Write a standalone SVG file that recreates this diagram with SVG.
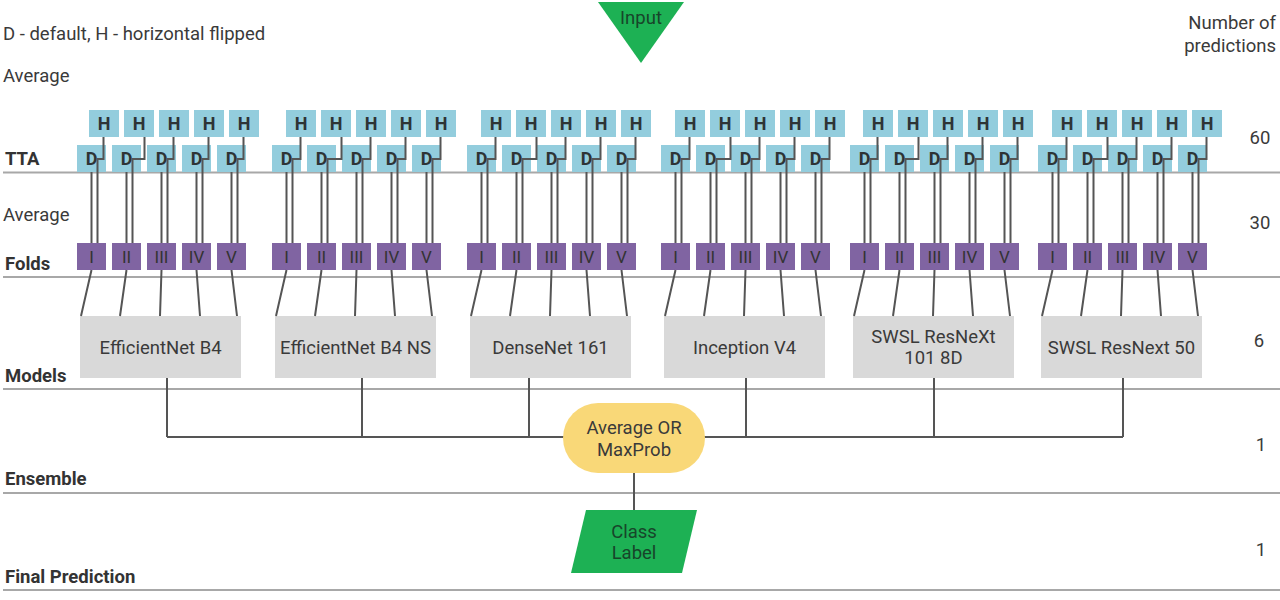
<svg xmlns="http://www.w3.org/2000/svg" width="1280" height="600" viewBox="0 0 1280 600">
<style>
text{font-family:Roboto,"Liberation Sans",sans-serif;fill:#3a3a3a;font-size:18.5px}
.lb{font-weight:bold;fill:#333}
.c{text-anchor:middle}
.r{text-anchor:end}
.hd{fill:#93CDDD}
.ht{font-weight:bold;font-size:18px;text-anchor:middle;fill:#2e3436}
.fo{fill:#8064A2}
.ft{font-size:17px;text-anchor:middle;fill:#333}
.mo{fill:#D9D9D9}
.sep{stroke:#a8a8a8;stroke-width:2;fill:none}
.cn{stroke:#555;stroke-width:2;fill:none}
.gt{fill:#17452a;text-anchor:middle}
</style>
<rect width="1280" height="600" fill="#fff"/>
<g id="separators">
<line class="sep" x1="3" y1="172.5" x2="1280" y2="172.5"/>
<line class="sep" x1="3" y1="277" x2="1280" y2="277"/>
<line class="sep" x1="3" y1="389" x2="1280" y2="389"/>
<line class="sep" x1="3" y1="493" x2="1280" y2="493"/>
<line class="sep" x1="3" y1="590" x2="1280" y2="590"/>
</g>
<g id="labels">
<text x="3" y="40">D - default, H - horizontal flipped</text>
<text x="3" y="82">Average</text>
<text x="3" y="221">Average</text>
<text class="lb" x="5" y="165">TTA</text>
<text class="lb" x="5" y="270">Folds</text>
<text class="lb" x="5" y="382">Models</text>
<text class="lb" x="5" y="485">Ensemble</text>
<text class="lb" x="5" y="583">Final Prediction</text>
<text class="r" x="1276" y="29">Number of</text>
<text class="r" x="1276" y="52">predictions</text>
<text class="c" x="1260" y="144">60</text>
<text class="c" x="1260" y="229">30</text>
<text class="c" x="1259" y="347">6</text>
<text class="c" x="1261" y="451">1</text>
<text class="c" x="1261" y="556">1</text>
</g>
<g id="input">
<polygon points="598,2 684,2 641,63" fill="#1DB154"/>
<text class="gt" x="641" y="24">Input</text>
</g>
<!-- TTA H boxes -->
<g id="tta-h">
<g id="h1-1"><rect class="hd" x="89" y="110" width="30" height="27"/><text class="ht" x="104" y="130">H</text></g>
<g id="h1-2"><rect class="hd" x="124" y="110" width="30" height="27"/><text class="ht" x="139" y="130">H</text></g>
<g id="h1-3"><rect class="hd" x="159" y="110" width="30" height="27"/><text class="ht" x="174" y="130">H</text></g>
<g id="h1-4"><rect class="hd" x="194" y="110" width="30" height="27"/><text class="ht" x="209" y="130">H</text></g>
<g id="h1-5"><rect class="hd" x="229" y="110" width="30" height="27"/><text class="ht" x="244" y="130">H</text></g>
<g id="h2-1"><rect class="hd" x="286" y="110" width="30" height="27"/><text class="ht" x="301" y="130">H</text></g>
<g id="h2-2"><rect class="hd" x="321" y="110" width="30" height="27"/><text class="ht" x="336" y="130">H</text></g>
<g id="h2-3"><rect class="hd" x="356" y="110" width="30" height="27"/><text class="ht" x="371" y="130">H</text></g>
<g id="h2-4"><rect class="hd" x="391" y="110" width="30" height="27"/><text class="ht" x="406" y="130">H</text></g>
<g id="h2-5"><rect class="hd" x="426" y="110" width="30" height="27"/><text class="ht" x="441" y="130">H</text></g>
<g id="h3-1"><rect class="hd" x="481" y="110" width="30" height="27"/><text class="ht" x="496" y="130">H</text></g>
<g id="h3-2"><rect class="hd" x="516" y="110" width="30" height="27"/><text class="ht" x="531" y="130">H</text></g>
<g id="h3-3"><rect class="hd" x="551" y="110" width="30" height="27"/><text class="ht" x="566" y="130">H</text></g>
<g id="h3-4"><rect class="hd" x="586" y="110" width="30" height="27"/><text class="ht" x="601" y="130">H</text></g>
<g id="h3-5"><rect class="hd" x="621" y="110" width="30" height="27"/><text class="ht" x="636" y="130">H</text></g>
<g id="h4-1"><rect class="hd" x="675" y="110" width="30" height="27"/><text class="ht" x="690" y="130">H</text></g>
<g id="h4-2"><rect class="hd" x="710" y="110" width="30" height="27"/><text class="ht" x="725" y="130">H</text></g>
<g id="h4-3"><rect class="hd" x="745" y="110" width="30" height="27"/><text class="ht" x="760" y="130">H</text></g>
<g id="h4-4"><rect class="hd" x="780" y="110" width="30" height="27"/><text class="ht" x="795" y="130">H</text></g>
<g id="h4-5"><rect class="hd" x="815" y="110" width="30" height="27"/><text class="ht" x="830" y="130">H</text></g>
<g id="h5-1"><rect class="hd" x="863" y="110" width="30" height="27"/><text class="ht" x="878" y="130">H</text></g>
<g id="h5-2"><rect class="hd" x="898" y="110" width="30" height="27"/><text class="ht" x="913" y="130">H</text></g>
<g id="h5-3"><rect class="hd" x="933" y="110" width="30" height="27"/><text class="ht" x="948" y="130">H</text></g>
<g id="h5-4"><rect class="hd" x="968" y="110" width="30" height="27"/><text class="ht" x="983" y="130">H</text></g>
<g id="h5-5"><rect class="hd" x="1003" y="110" width="30" height="27"/><text class="ht" x="1018" y="130">H</text></g>
<g id="h6-1"><rect class="hd" x="1052" y="110" width="30" height="27"/><text class="ht" x="1067" y="130">H</text></g>
<g id="h6-2"><rect class="hd" x="1087" y="110" width="30" height="27"/><text class="ht" x="1102" y="130">H</text></g>
<g id="h6-3"><rect class="hd" x="1122" y="110" width="30" height="27"/><text class="ht" x="1137" y="130">H</text></g>
<g id="h6-4"><rect class="hd" x="1157" y="110" width="30" height="27"/><text class="ht" x="1172" y="130">H</text></g>
<g id="h6-5"><rect class="hd" x="1192" y="110" width="30" height="27"/><text class="ht" x="1207" y="130">H</text></g>
</g>
<!-- TTA D boxes -->
<g id="tta-d">
<g id="d1-1"><rect class="hd" x="77" y="145" width="29" height="27"/><text class="ht" x="91.5" y="165">D</text></g>
<g id="d1-2"><rect class="hd" x="112" y="145" width="29" height="27"/><text class="ht" x="126.5" y="165">D</text></g>
<g id="d1-3"><rect class="hd" x="147" y="145" width="29" height="27"/><text class="ht" x="161.5" y="165">D</text></g>
<g id="d1-4"><rect class="hd" x="182" y="145" width="29" height="27"/><text class="ht" x="196.5" y="165">D</text></g>
<g id="d1-5"><rect class="hd" x="217" y="145" width="29" height="27"/><text class="ht" x="231.5" y="165">D</text></g>
<g id="d2-1"><rect class="hd" x="272" y="145" width="29" height="27"/><text class="ht" x="286.5" y="165">D</text></g>
<g id="d2-2"><rect class="hd" x="307" y="145" width="29" height="27"/><text class="ht" x="321.5" y="165">D</text></g>
<g id="d2-3"><rect class="hd" x="342" y="145" width="29" height="27"/><text class="ht" x="356.5" y="165">D</text></g>
<g id="d2-4"><rect class="hd" x="377" y="145" width="29" height="27"/><text class="ht" x="391.5" y="165">D</text></g>
<g id="d2-5"><rect class="hd" x="412" y="145" width="29" height="27"/><text class="ht" x="426.5" y="165">D</text></g>
<g id="d3-1"><rect class="hd" x="467" y="145" width="29" height="27"/><text class="ht" x="481.5" y="165">D</text></g>
<g id="d3-2"><rect class="hd" x="502" y="145" width="29" height="27"/><text class="ht" x="516.5" y="165">D</text></g>
<g id="d3-3"><rect class="hd" x="537" y="145" width="29" height="27"/><text class="ht" x="551.5" y="165">D</text></g>
<g id="d3-4"><rect class="hd" x="572" y="145" width="29" height="27"/><text class="ht" x="586.5" y="165">D</text></g>
<g id="d3-5"><rect class="hd" x="607" y="145" width="29" height="27"/><text class="ht" x="621.5" y="165">D</text></g>
<g id="d4-1"><rect class="hd" x="661" y="145" width="29" height="27"/><text class="ht" x="675.5" y="165">D</text></g>
<g id="d4-2"><rect class="hd" x="696" y="145" width="29" height="27"/><text class="ht" x="710.5" y="165">D</text></g>
<g id="d4-3"><rect class="hd" x="731" y="145" width="29" height="27"/><text class="ht" x="745.5" y="165">D</text></g>
<g id="d4-4"><rect class="hd" x="766" y="145" width="29" height="27"/><text class="ht" x="780.5" y="165">D</text></g>
<g id="d4-5"><rect class="hd" x="801" y="145" width="29" height="27"/><text class="ht" x="815.5" y="165">D</text></g>
<g id="d5-1"><rect class="hd" x="850" y="145" width="29" height="27"/><text class="ht" x="864.5" y="165">D</text></g>
<g id="d5-2"><rect class="hd" x="885" y="145" width="29" height="27"/><text class="ht" x="899.5" y="165">D</text></g>
<g id="d5-3"><rect class="hd" x="920" y="145" width="29" height="27"/><text class="ht" x="934.5" y="165">D</text></g>
<g id="d5-4"><rect class="hd" x="955" y="145" width="29" height="27"/><text class="ht" x="969.5" y="165">D</text></g>
<g id="d5-5"><rect class="hd" x="990" y="145" width="29" height="27"/><text class="ht" x="1004.5" y="165">D</text></g>
<g id="d6-1"><rect class="hd" x="1038" y="145" width="29" height="27"/><text class="ht" x="1052.5" y="165">D</text></g>
<g id="d6-2"><rect class="hd" x="1073" y="145" width="29" height="27"/><text class="ht" x="1087.5" y="165">D</text></g>
<g id="d6-3"><rect class="hd" x="1108" y="145" width="29" height="27"/><text class="ht" x="1122.5" y="165">D</text></g>
<g id="d6-4"><rect class="hd" x="1143" y="145" width="29" height="27"/><text class="ht" x="1157.5" y="165">D</text></g>
<g id="d6-5"><rect class="hd" x="1178" y="145" width="29" height="27"/><text class="ht" x="1192.5" y="165">D</text></g>
</g>
<!-- Folds -->
<g id="folds">
<g id="f1-1"><rect class="fo" x="77" y="243" width="29" height="27"/><text class="ft" x="91.5" y="263">I</text></g>
<g id="f1-2"><rect class="fo" x="112" y="243" width="29" height="27"/><text class="ft" x="126.5" y="263">II</text></g>
<g id="f1-3"><rect class="fo" x="147" y="243" width="29" height="27"/><text class="ft" x="161.5" y="263">III</text></g>
<g id="f1-4"><rect class="fo" x="182" y="243" width="29" height="27"/><text class="ft" x="196.5" y="263">IV</text></g>
<g id="f1-5"><rect class="fo" x="217" y="243" width="29" height="27"/><text class="ft" x="231.5" y="263">V</text></g>
<g id="f2-1"><rect class="fo" x="272" y="243" width="29" height="27"/><text class="ft" x="286.5" y="263">I</text></g>
<g id="f2-2"><rect class="fo" x="307" y="243" width="29" height="27"/><text class="ft" x="321.5" y="263">II</text></g>
<g id="f2-3"><rect class="fo" x="342" y="243" width="29" height="27"/><text class="ft" x="356.5" y="263">III</text></g>
<g id="f2-4"><rect class="fo" x="377" y="243" width="29" height="27"/><text class="ft" x="391.5" y="263">IV</text></g>
<g id="f2-5"><rect class="fo" x="412" y="243" width="29" height="27"/><text class="ft" x="426.5" y="263">V</text></g>
<g id="f3-1"><rect class="fo" x="467" y="243" width="29" height="27"/><text class="ft" x="481.5" y="263">I</text></g>
<g id="f3-2"><rect class="fo" x="502" y="243" width="29" height="27"/><text class="ft" x="516.5" y="263">II</text></g>
<g id="f3-3"><rect class="fo" x="537" y="243" width="29" height="27"/><text class="ft" x="551.5" y="263">III</text></g>
<g id="f3-4"><rect class="fo" x="572" y="243" width="29" height="27"/><text class="ft" x="586.5" y="263">IV</text></g>
<g id="f3-5"><rect class="fo" x="607" y="243" width="29" height="27"/><text class="ft" x="621.5" y="263">V</text></g>
<g id="f4-1"><rect class="fo" x="661" y="243" width="29" height="27"/><text class="ft" x="675.5" y="263">I</text></g>
<g id="f4-2"><rect class="fo" x="696" y="243" width="29" height="27"/><text class="ft" x="710.5" y="263">II</text></g>
<g id="f4-3"><rect class="fo" x="731" y="243" width="29" height="27"/><text class="ft" x="745.5" y="263">III</text></g>
<g id="f4-4"><rect class="fo" x="766" y="243" width="29" height="27"/><text class="ft" x="780.5" y="263">IV</text></g>
<g id="f4-5"><rect class="fo" x="801" y="243" width="29" height="27"/><text class="ft" x="815.5" y="263">V</text></g>
<g id="f5-1"><rect class="fo" x="850" y="243" width="29" height="27"/><text class="ft" x="864.5" y="263">I</text></g>
<g id="f5-2"><rect class="fo" x="885" y="243" width="29" height="27"/><text class="ft" x="899.5" y="263">II</text></g>
<g id="f5-3"><rect class="fo" x="920" y="243" width="29" height="27"/><text class="ft" x="934.5" y="263">III</text></g>
<g id="f5-4"><rect class="fo" x="955" y="243" width="29" height="27"/><text class="ft" x="969.5" y="263">IV</text></g>
<g id="f5-5"><rect class="fo" x="990" y="243" width="29" height="27"/><text class="ft" x="1004.5" y="263">V</text></g>
<g id="f6-1"><rect class="fo" x="1038" y="243" width="29" height="27"/><text class="ft" x="1052.5" y="263">I</text></g>
<g id="f6-2"><rect class="fo" x="1073" y="243" width="29" height="27"/><text class="ft" x="1087.5" y="263">II</text></g>
<g id="f6-3"><rect class="fo" x="1108" y="243" width="29" height="27"/><text class="ft" x="1122.5" y="263">III</text></g>
<g id="f6-4"><rect class="fo" x="1143" y="243" width="29" height="27"/><text class="ft" x="1157.5" y="263">IV</text></g>
<g id="f6-5"><rect class="fo" x="1178" y="243" width="29" height="27"/><text class="ft" x="1192.5" y="263">V</text></g>
</g>
<!-- Models -->
<g id="models">
<g id="m1"><rect class="mo" x="80" y="316" width="161" height="62"/><text class="c" x="160.5" y="354">EfficientNet B4</text></g>
<g id="m2"><rect class="mo" x="275" y="316" width="161" height="62"/><text class="c" x="355.5" y="354">EfficientNet B4 NS</text></g>
<g id="m3"><rect class="mo" x="470" y="316" width="161" height="62"/><text class="c" x="550.5" y="354">DenseNet 161</text></g>
<g id="m4"><rect class="mo" x="664" y="316" width="161" height="62"/><text class="c" x="744.5" y="354">Inception V4</text></g>
<g id="m5"><rect class="mo" x="853" y="316" width="161" height="62"/><text class="c" x="933.5" y="343">SWSL ResNeXt</text><text class="c" x="933.5" y="364">101 8D</text></g>
<g id="m6"><rect class="mo" x="1041" y="316" width="161" height="62"/><text class="c" x="1121.5" y="354">SWSL ResNext 50</text></g>
</g>
<!-- Connectors -->
<g id="connectors" class="cn">
<path d="M91.5 172V243M103.5 137V159H97.5V243M126.5 172V243M144.5 137V159H132.5V243M161.5 172V243M173.5 137V159H167.5V243M196.5 172V243M208.5 137V159H202.5V243M231.5 172V243M243.5 137V159H237.5V243"/>
<path d="M286.5 172V243M300.5 137V159H292.5V243M321.5 172V243M341.5 137V159H327.5V243M356.5 172V243M370.5 137V159H362.5V243M391.5 172V243M405.5 137V159H397.5V243M426.5 172V243M440.5 137V159H432.5V243"/>
<path d="M481.5 172V243M495.5 137V159H487.5V243M516.5 172V243M536.5 137V159H522.5V243M551.5 172V243M565.5 137V159H557.5V243M586.5 172V243M600.5 137V159H592.5V243M621.5 172V243M635.5 137V159H627.5V243"/>
<path d="M675.5 172V243M689.5 137V159H681.5V243M710.5 172V243M730.5 137V159H716.5V243M745.5 172V243M759.5 137V159H751.5V243M780.5 172V243M794.5 137V159H786.5V243M815.5 172V243M829.5 137V159H821.5V243"/>
<path d="M864.5 172V243M877.5 137V159H870.5V243M899.5 172V243M918.5 137V159H905.5V243M934.5 172V243M947.5 137V159H940.5V243M969.5 172V243M982.5 137V159H975.5V243M1004.5 172V243M1017.5 137V159H1010.5V243"/>
<path d="M1052.5 172V243M1066.5 137V159H1058.5V243M1087.5 172V243M1107.5 137V159H1093.5V243M1122.5 172V243M1136.5 137V159H1128.5V243M1157.5 172V243M1171.5 137V159H1163.5V243M1192.5 172V243M1206.5 137V159H1198.5V243"/>
<path d="M91.5 270L81 316M126.5 270L120 316M161.5 270L160 316M196.5 270L200 316M231.5 270L237 316"/>
<path d="M286.5 270L276 316M321.5 270L315 316M356.5 270L355 316M391.5 270L395 316M426.5 270L432 316"/>
<path d="M481.5 270L471 316M516.5 270L510 316M551.5 270L550 316M586.5 270L590 316M621.5 270L627 316"/>
<path d="M675.5 270L665 316M710.5 270L704 316M745.5 270L744 316M780.5 270L784 316M815.5 270L821 316"/>
<path d="M864.5 270L854 316M899.5 270L893 316M934.5 270L933 316M969.5 270L973 316M1004.5 270L1010 316"/>
<path d="M1052.5 270L1042 316M1087.5 270L1081 316M1122.5 270L1121 316M1157.5 270L1161 316M1192.5 270L1198 316"/>
<path d="M167 378V437M362 378V437M529 378V437M746 378V437M934 378V437M1123 378V437M167 437H1123"/>
<path d="M634 473V510"/>
</g>
<g id="ensemble">
<rect x="563" y="403" width="142" height="70" rx="35" fill="#F9D878"/>
<text class="c" x="634" y="434">Average OR</text>
<text class="c" x="634" y="456">MaxProb</text>
</g>
<g id="class-label">
<polygon points="586,510 697,510 682,573 571,573" fill="#1DB154"/>
<text class="gt" x="634" y="538">Class</text>
<text class="gt" x="634" y="559">Label</text>
</g>
</svg>
